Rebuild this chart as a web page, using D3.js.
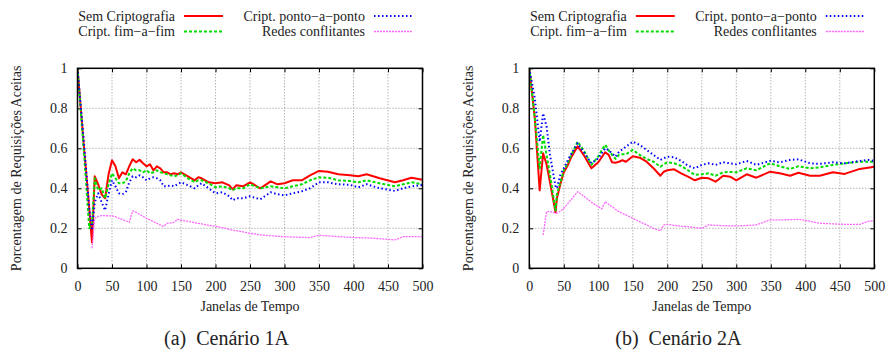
<!DOCTYPE html>
<html>
<head>
<meta charset="utf-8">
<script src="https://cdn.jsdelivr.net/npm/d3@7"></script>
<style>
  body { margin: 0; background: #fff; }
</style>
</head>
<body>
<svg width="886" height="351"></svg>
<script>
// series names (legend order, gnuplot key with 2 rows)
const seriesNames = ['Sem Criptografia', 'Cript. fim\u2212a\u2212fim', 'Cript. ponto\u2212a\u2212ponto', 'Redes conflitantes'];
const xTicks = [0, 50, 100, 150, 200, 250, 300, 350, 400, 450, 500];
const yTicks = [0, 0.2, 0.4, 0.6, 0.8, 1];
const yTickLabels = ['0', '0.2', '0.4', '0.6', '0.8', '1'];

// Cenario 1A
const xA = [0, 10, 17, 21, 25, 30, 35, 40, 45, 50, 55, 60, 65, 70, 75, 80, 85, 90, 95, 100,
  105, 110, 115, 120, 125, 130, 135, 140, 145, 150, 160, 170, 175, 180, 190, 200, 210, 220, 225, 230,
  240, 250, 265, 280, 290, 300, 312, 325, 337, 350, 363, 378, 395, 407, 419, 438, 460, 472, 484, 500];
const semA = [1.0, 0.58, 0.3, 0.13, 0.46, 0.42, 0.37, 0.35, 0.47, 0.54, 0.51, 0.45, 0.48, 0.47, 0.51, 0.545, 0.53, 0.543, 0.525, 0.51,
  0.52, 0.49, 0.51, 0.50, 0.48, 0.48, 0.47, 0.475, 0.47, 0.48, 0.46, 0.44, 0.455, 0.45, 0.43, 0.425, 0.43, 0.415, 0.395, 0.415,
  0.41, 0.43, 0.40, 0.435, 0.42, 0.425, 0.44, 0.44, 0.465, 0.487, 0.483, 0.47, 0.465, 0.46, 0.47, 0.45, 0.43, 0.44, 0.453, 0.443];
const fimA = [1.0, 0.55, 0.2, 0.22, 0.45, 0.39, 0.40, 0.35, 0.42, 0.475, 0.45, 0.425, 0.425, 0.435, 0.475, 0.50, 0.49, 0.49, 0.48, 0.49,
  0.475, 0.48, 0.49, 0.48, 0.475, 0.47, 0.465, 0.46, 0.465, 0.475, 0.45, 0.43, 0.44, 0.44, 0.425, 0.405, 0.41, 0.40, 0.39, 0.40,
  0.40, 0.42, 0.40, 0.41, 0.405, 0.40, 0.41, 0.42, 0.44, 0.455, 0.453, 0.44, 0.437, 0.43, 0.44, 0.425, 0.41, 0.42, 0.43, 0.42];
const pontoA = [1.0, 0.6, 0.3, 0.19, 0.33, 0.375, 0.33, 0.29, 0.37, 0.44, 0.41, 0.375, 0.37, 0.38, 0.43, 0.46, 0.455, 0.465, 0.455, 0.44,
  0.45, 0.455, 0.45, 0.44, 0.41, 0.41, 0.415, 0.41, 0.42, 0.43, 0.415, 0.40, 0.415, 0.425, 0.40, 0.375, 0.38, 0.36, 0.34, 0.35,
  0.35, 0.36, 0.345, 0.38, 0.37, 0.365, 0.375, 0.385, 0.40, 0.43, 0.43, 0.42, 0.417, 0.405, 0.42, 0.40, 0.387, 0.40, 0.41, 0.417];
const redesA = [null, null, null, 0.10, 0.25, 0.26, 0.263, 0.263, 0.262, 0.262, 0.258, 0.25, 0.245, 0.237, 0.23, 0.287, 0.28, 0.27, 0.26, 0.25,
  0.242, 0.233, 0.225, 0.217, 0.21, 0.225, 0.227, 0.23, 0.245, 0.24, 0.235, 0.228, 0.225, 0.222, 0.215, 0.21, 0.203, 0.195, 0.19, 0.188,
  0.182, 0.175, 0.167, 0.163, 0.16, 0.158, 0.156, 0.155, 0.153, 0.165, 0.162, 0.158, 0.155, 0.153, 0.152, 0.148, 0.142, 0.158, 0.158, 0.158];

// Cenario 2A
const xB = [0, 8, 15, 20, 25, 30, 38, 40, 45, 50, 55, 60, 70, 80, 90, 100, 105, 110, 115, 120,
  125, 130, 135, 140, 150, 160, 170, 180, 190, 195, 200, 210, 220, 230, 240, 250, 260, 270, 281, 291,
  300, 315, 329, 349, 363, 378, 390, 407, 421, 440, 457, 479, 491, 500];
const semB = [1.0, 0.75, 0.39, 0.575, 0.52, 0.43, 0.28, 0.35, 0.42, 0.48, 0.51, 0.55, 0.61, 0.56, 0.50, 0.53, 0.555, 0.58, 0.567, 0.53,
  0.528, 0.533, 0.54, 0.533, 0.56, 0.553, 0.533, 0.50, 0.463, 0.483, 0.49, 0.495, 0.475, 0.458, 0.44, 0.453, 0.45, 0.433, 0.463, 0.458,
  0.44, 0.47, 0.453, 0.483, 0.475, 0.463, 0.478, 0.463, 0.463, 0.48, 0.472, 0.497, 0.503, 0.508];
const fimB = [1.0, 0.75, 0.5, 0.667, 0.567, 0.467, 0.29, 0.37, 0.43, 0.49, 0.52, 0.56, 0.633, 0.583, 0.517, 0.56, 0.59, 0.617, 0.59, 0.567,
  0.547, 0.567, 0.57, 0.57, 0.592, 0.567, 0.547, 0.533, 0.508, 0.52, 0.53, 0.525, 0.512, 0.49, 0.467, 0.47, 0.475, 0.463, 0.48, 0.482,
  0.48, 0.50, 0.49, 0.525, 0.51, 0.497, 0.51, 0.50, 0.505, 0.517, 0.525, 0.533, 0.533, 0.533];
const pontoB = [1.0, 0.85, 0.633, 0.775, 0.71, 0.567, 0.41, 0.40, 0.467, 0.50, 0.535, 0.567, 0.625, 0.575, 0.525, 0.55, 0.575, 0.60, 0.59, 0.575,
  0.558, 0.583, 0.595, 0.608, 0.633, 0.617, 0.592, 0.567, 0.542, 0.55, 0.558, 0.555, 0.537, 0.513, 0.50, 0.517, 0.525, 0.517, 0.53, 0.525,
  0.52, 0.537, 0.517, 0.537, 0.53, 0.542, 0.545, 0.525, 0.522, 0.53, 0.525, 0.537, 0.542, 0.537];
const redesB = [null, null, null, 0.167, 0.283, 0.283, 0.277, 0.275, 0.285, 0.30, 0.32, 0.34, 0.383, 0.358, 0.33, 0.308, 0.297, 0.333, 0.32, 0.308,
  0.295, 0.283, 0.275, 0.267, 0.25, 0.233, 0.217, 0.20, 0.187, 0.217, 0.22, 0.215, 0.21, 0.208, 0.203, 0.20, 0.217, 0.215, 0.213, 0.212,
  0.212, 0.214, 0.217, 0.242, 0.242, 0.243, 0.245, 0.235, 0.225, 0.222, 0.22, 0.22, 0.235, 0.237];

const styles = [
  { color: '#ff0000', width: 2, dash: null },
  { color: '#00dd00', width: 2, dash: '3,2' },
  { color: '#0000ff', width: 2, dash: '1.5,2.5' },
  { color: '#ff66ff', width: 1.3, dash: '2,1' }
];

const panels = [
  { x0: 77.5, caption: '(a)', title: 'Cen\u00e1rio 1A', xs: xA, series: [semA, fimA, pontoA, redesA] },
  { x0: 529.3, caption: '(b)', title: 'Cen\u00e1rio 2A', xs: xB, series: [semB, fimB, pontoB, redesB] }
];

const FONT = '"Liberation Serif", "Times New Roman", serif';
const svg = d3.select('svg');
const plotW = 345, plotTop = 68.3, plotBottom = 268.3;

function label(g, size) {
  return g.append('text').style('font-family', FONT).attr('font-size', size).attr('fill', '#222');
}

panels.forEach((p, pi) => {
  const g = svg.append('g');
  const x = d3.scaleLinear().domain([0, 500]).range([p.x0, p.x0 + plotW]);
  const y = d3.scaleLinear().domain([0, 1]).range([plotBottom, plotTop]);

  // grid
  g.selectAll('.gx').data(xTicks.slice(1, -1)).enter().append('line')
    .attr('x1', d => x(d)).attr('x2', d => x(d)).attr('y1', plotTop).attr('y2', plotBottom)
    .attr('stroke', '#777').attr('stroke-width', 0.8).attr('stroke-dasharray', '1,2');
  g.selectAll('.gy').data(yTicks.slice(1, -1)).enter().append('line')
    .attr('x1', p.x0).attr('x2', p.x0 + plotW).attr('y1', d => y(d)).attr('y2', d => y(d))
    .attr('stroke', '#777').attr('stroke-width', 0.8).attr('stroke-dasharray', '1,2');

  // axes with inward ticks, mirrored
  const ax = [
    { a: d3.axisBottom(x).tickValues(xTicks).tickFormat(d => d), t: `translate(0,${plotBottom})` },
    { a: d3.axisTop(x).tickValues(xTicks).tickFormat(''), t: `translate(0,${plotTop})` },
    { a: d3.axisLeft(y).tickValues(yTicks).tickFormat((d, i) => yTickLabels[i]), t: `translate(${p.x0},0)` },
    { a: d3.axisRight(y).tickValues(yTicks).tickFormat(''), t: `translate(${p.x0 + plotW},0)` }
  ];
  ax.forEach((o, i) => {
    const sel = g.append('g').attr('transform', o.t)
      .call(o.a.tickSizeInner(-4).tickSizeOuter(0).tickPadding(i === 0 ? 13 : 10));
    sel.select('.domain').remove();
    sel.selectAll('line').attr('stroke', '#000');
    sel.selectAll('text').attr('font-size', 14).attr('fill', '#222')
      .style('font-family', FONT);
  });

  // lines
  const clipId = 'clip' + pi;
  svg.append('clipPath').attr('id', clipId).append('rect')
    .attr('x', p.x0).attr('y', plotTop - 1).attr('width', plotW).attr('height', plotBottom - plotTop + 2);
  const line = d3.line().defined(d => d[1] != null).x(d => x(d[0])).y(d => y(d[1]));
  p.series.forEach((vals, si) => {
    const st = styles[si];
    g.append('path')
      .datum(p.xs.map((xv, k) => [xv, vals[k]]))
      .attr('clip-path', `url(#${clipId})`)
      .attr('d', line)
      .attr('fill', 'none')
      .attr('stroke', st.color)
      .attr('stroke-width', st.width)
      .attr('stroke-dasharray', st.dash)
      .attr('stroke-linejoin', 'round');
  });

  // frame
  g.append('rect').attr('x', p.x0).attr('y', plotTop).attr('width', plotW).attr('height', plotBottom - plotTop)
    .attr('fill', 'none').attr('stroke', '#000').attr('stroke-width', 1.5);

  // axis titles
  label(g, 14).attr('x', p.x0 + plotW / 2).attr('y', 311)
    .attr('text-anchor', 'middle').text('Janelas de Tempo');
  label(g, 14).attr('transform', `translate(${p.x0 - 56.5},${(plotTop + plotBottom) / 2}) rotate(-90)`)
    .attr('text-anchor', 'middle').text('Porcentagem de Requisi\u00e7\u00f5es Aceitas');

  // caption
  label(g, 20).attr('x', p.x0 + 149).attr('y', 345)
    .attr('text-anchor', 'middle')
    .text(p.caption + '\u2002' + p.title);

  // legend
  const leg = [
    { tx: 97.5, ly: 16, by: 21 },
    { tx: 97.5, ly: 31.5, by: 36 },
    { tx: 287.5, ly: 16, by: 21 },
    { tx: 287.5, ly: 31.5, by: 36 }
  ];
  seriesNames.forEach((name, si) => {
    const l = leg[si], st = styles[si];
    label(g, 14).attr('x', p.x0 + l.tx).attr('y', l.by)
      .attr('text-anchor', 'end').text(name);
    g.append('line').attr('x1', p.x0 + l.tx + 9).attr('x2', p.x0 + l.tx + 48)
      .attr('y1', l.ly).attr('y2', l.ly)
      .attr('stroke', st.color).attr('stroke-width', st.width)
      .attr('stroke-dasharray', st.dash);
  });
});
</script>
</body>
</html>
